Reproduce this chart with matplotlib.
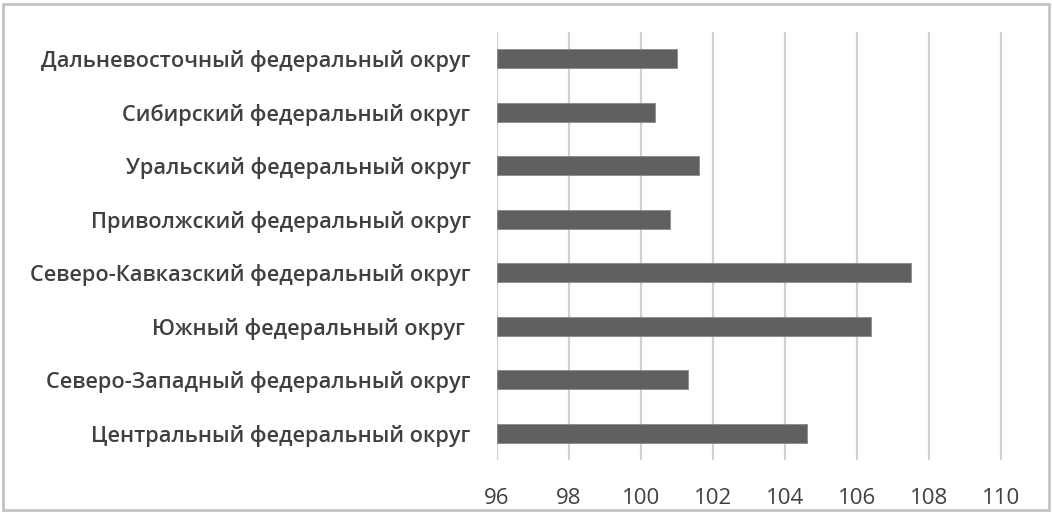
import matplotlib.pyplot as plt
from matplotlib.patches import Rectangle

plt.rcParams['font.family'] = ['Open Sans', 'DejaVu Sans']

districts = [
    'Центральный федеральный округ',
    'Северо-Западный федеральный округ',
    'Южный федеральный округ ',
    'Северо-Кавказский федеральный округ',
    'Приволжский федеральный округ',
    'Уральский федеральный округ',
    'Сибирский федеральный округ',
    'Дальневосточный федеральный округ',
]
values = [104.6, 101.3, 106.4, 107.5, 100.8, 101.6, 100.4, 101.0]
xticks = [96, 98, 100, 102, 104, 106, 108, 110]

base = 96
text_color = '#404040'

fig = plt.figure(figsize=(10.52, 5.14), dpi=100)
ax = fig.add_axes([0.4724, 0.105, 0.515, 0.833])

ypos = range(len(districts))
ax.barh(ypos, [v - base for v in values], left=base, height=0.35,
        color='#606060', edgecolor='#8a8a8a', linewidth=0.6, zorder=3)

ax.set_xlim(96, 111.05)
ax.set_ylim(-0.5, len(districts) - 0.5)
ax.set_xticks(xticks)
ax.set_xticklabels([str(t) for t in xticks], fontsize=16, color=text_color)
ax.set_yticks(list(ypos))
ax.set_yticklabels(districts, fontsize=15.7, color=text_color, fontweight='semibold')
ax.tick_params(axis='x', length=0, pad=20)
ax.tick_params(axis='y', length=0, pad=19)
ax.grid(axis='x', color='#d0d0d0', linewidth=1.6, zorder=0)
for s in ax.spines.values():
    s.set_visible(False)

fig.patches.append(Rectangle((0.003, 0.008), 0.994, 0.984, transform=fig.transFigure,
                             fill=False, edgecolor='#c4c4c4', linewidth=2))

fig.savefig('out.png', dpi=100)
